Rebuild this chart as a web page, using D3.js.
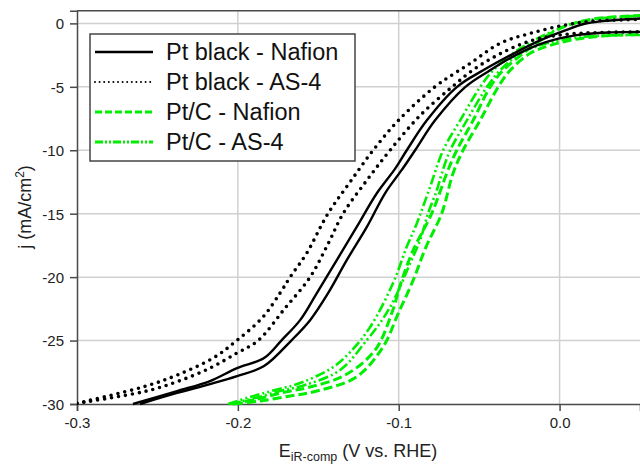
<!DOCTYPE html>
<html>
<head>
<meta charset="utf-8">
<script src="https://cdn.jsdelivr.net/npm/d3@7"></script>
<style>
  body { margin: 0; background: #fff; }
  svg { display: block; font-family: "Liberation Sans", Arial, sans-serif; }
</style>
</head>
<body>
<div id="chart"></div>
<script>
// Axis ticks
const xTicks = [-0.3, -0.2, -0.1, 0.0];
const yTicks = [0, -5, -10, -15, -20, -25, -30];

const seriesNames = ["Pt black - Nafion", "Pt black - AS-4", "Pt/C - Nafion", "Pt/C - AS-4"];

// Each CV loop has two scan branches, [E (V vs RHE), j (mA/cm2)]
const ptBlackNafionA = [
    [-0.2652, -30.0], [-0.2378, -28.98], [-0.2173, -28.19], [-0.2005, -27.17], [-0.1837, -26.38],
    [-0.1727, -24.96], [-0.1613, -23.39], [-0.1509, -21.26], [-0.1385, -18.66], [-0.1261, -16.04],
    [-0.1136, -13.39], [-0.1022, -11.45], [-0.0950, -10.0], [-0.0825, -7.64], [-0.0639, -5.02],
    [-0.0475, -3.70], [-0.0307, -2.52], [-0.0121, -1.34], [0.0035, -0.55], [0.0150, -0.05],
    [0.0252, 0.16], [0.0501, 0.39]
];
const ptBlackNafionB = [
    [-0.2608, -30.0], [-0.2378, -29.13], [-0.2173, -28.43], [-0.2005, -27.80], [-0.1837, -27.01],
    [-0.1665, -24.96], [-0.1551, -23.39], [-0.1439, -21.26], [-0.1323, -18.66], [-0.1198, -16.04],
    [-0.1085, -13.39], [-0.0981, -11.55], [-0.0898, -10.0], [-0.0774, -7.64], [-0.0587, -5.02],
    [-0.0432, -3.70], [-0.0276, -2.52], [-0.0090, -1.50], [0.0097, -0.94], [0.0315, -0.71],
    [0.0501, -0.67]
];
const ptBlackAs4A = [
    [-0.3000, -29.94], [-0.2585, -28.64], [-0.2378, -27.72], [-0.2154, -26.38], [-0.2007, -25.0],
    [-0.1843, -23.13], [-0.1738, -21.26], [-0.1675, -20.0], [-0.1572, -18.11], [-0.1440, -15.0],
    [-0.1302, -12.5], [-0.1159, -10.0], [-0.0991, -7.5], [-0.0775, -5.0], [-0.0660, -4.0],
    [-0.0550, -3.1], [-0.0370, -1.57], [-0.0183, -0.79], [0.0022, -0.16], [0.0190, 0.16],
    [0.0501, 0.31]
];
const ptBlackAs4B = [
    [-0.3000, -29.94], [-0.2585, -29.03], [-0.2378, -28.24], [-0.2173, -27.17], [-0.2005, -25.98],
    [-0.1874, -25.0], [-0.1710, -22.5], [-0.1551, -20.0], [-0.1440, -17.4], [-0.1346, -15.0],
    [-0.1200, -12.4], [-0.1054, -10.0], [-0.0870, -7.3], [-0.0668, -5.0], [-0.0530, -3.6],
    [-0.0400, -2.6], [-0.0270, -1.8], [-0.0130, -1.2], [0.0050, -0.85], [0.0250, -0.72],
    [0.0501, -0.67]
];
const ptcNafionA = [
    [-0.2036, -30.0], [-0.1881, -29.61], [-0.1706, -29.06], [-0.1551, -28.66], [-0.1333, -27.72],
    [-0.1147, -25.75], [-0.1043, -22.83], [-0.0981, -20.24], [-0.0910, -17.87], [-0.0794, -14.96],
    [-0.0701, -11.81], [-0.0639, -10.0], [-0.0537, -7.64], [-0.0432, -5.02], [-0.0351, -3.70],
    [-0.0226, -2.36], [-0.0121, -1.34], [0.0004, -0.39], [0.0190, 0.31], [0.0501, 0.63]
];
const ptcNafionB = [
    [-0.2024, -30.0], [-0.1862, -29.76], [-0.1675, -29.37], [-0.1509, -28.98], [-0.1261, -27.85],
    [-0.1097, -25.49], [-0.1002, -22.83], [-0.0910, -20.24], [-0.0830, -17.61], [-0.0732, -14.96],
    [-0.0662, -11.81], [-0.0600, -10.0], [-0.0494, -7.64], [-0.0382, -5.02], [-0.0307, -3.70],
    [-0.0183, -2.36], [-0.0058, -1.73], [0.0097, -1.26], [0.0283, -0.98], [0.0501, -0.87]
];
const ptcAs4A = [
    [-0.2061, -30.0], [-0.1924, -29.45], [-0.1769, -28.90], [-0.1613, -28.35], [-0.1408, -27.09],
    [-0.1302, -25.91], [-0.1178, -23.94], [-0.1035, -20.47], [-0.0950, -17.61], [-0.0887, -15.75],
    [-0.0805, -12.89], [-0.0724, -10.0], [-0.0618, -7.64], [-0.0494, -5.02], [-0.0413, -3.70],
    [-0.0289, -2.36], [-0.0183, -1.50], [-0.0058, -0.71], [0.0066, -0.08], [0.0252, 0.39],
    [0.0501, 0.59]
];
const ptcAs4B = [
    [-0.2049, -30.0], [-0.1893, -29.53], [-0.1738, -28.98], [-0.1582, -28.50], [-0.1364, -27.32],
    [-0.1198, -24.96], [-0.1116, -23.62], [-0.1053, -22.34], [-0.0991, -20.76], [-0.0929, -18.90],
    [-0.0867, -17.09], [-0.0817, -14.96], [-0.0763, -13.15], [-0.0732, -11.81], [-0.0680, -10.0],
    [-0.0576, -7.64], [-0.0452, -5.02], [-0.0369, -3.70], [-0.0245, -2.36], [-0.0121, -1.73],
    [0.0004, -1.34], [0.0190, -1.02], [0.0501, -0.91]
];

const width = 640;
const height = 466;
const margin = { top: 10.7, right: 0, bottom: 62, left: 77 };

const svg = d3.select("#chart")
    .append("svg")
    .attr("width", width)
    .attr("height", height);

// Scales
const x = d3.scaleLinear()
    .domain([-0.3, 0.05])
    .range([margin.left, width - margin.right]);

const y = d3.scaleLinear()
    .domain([-30, 1])
    .range([height - margin.bottom, margin.top]);

const gridColor = "#d0d0d0";
const axisColor = "#4a4a4a";
const green = "#00ee00";

// Grid
svg.append("g")
    .selectAll("line")
    .data(xTicks.filter(d => d > -0.3))
    .join("line")
    .attr("x1", d => x(d)).attr("x2", d => x(d))
    .attr("y1", y.range()[1]).attr("y2", y.range()[0])
    .attr("stroke", gridColor)
    .attr("stroke-width", 1.5);

svg.append("g")
    .selectAll("line")
    .data(yTicks.filter(d => d > -30))
    .join("line")
    .attr("x1", x.range()[0]).attr("x2", x.range()[1])
    .attr("y1", d => y(d)).attr("y2", d => y(d))
    .attr("stroke", gridColor)
    .attr("stroke-width", 1.5);

// Top frame line
svg.append("line")
    .attr("x1", x.range()[0]).attr("x2", x.range()[1])
    .attr("y1", y.range()[1]).attr("y2", y.range()[1])
    .attr("stroke", axisColor)
    .attr("stroke-width", 1.5);

// Axes
const xAxis = svg.append("g")
    .attr("transform", `translate(0,${y.range()[0]})`)
    .call(d3.axisBottom(x).tickValues(xTicks).tickSize(7).tickPadding(6).tickFormat(d => d.toFixed(1)));

const yAxis = svg.append("g")
    .attr("transform", `translate(${x.range()[0]},0)`)
    .call(d3.axisLeft(y).tickValues(yTicks).tickSize(7).tickPadding(6).tickFormat(d => String(d)));

[xAxis, yAxis].forEach(g => {
    g.select(".domain").attr("stroke", axisColor).attr("stroke-width", 1.5);
    g.selectAll(".tick line").attr("stroke", axisColor).attr("stroke-width", 1.5);
    g.selectAll("text")
        .attr("fill", "#222")
        .style("font-size", "15px")
        .style("font-family", "Liberation Sans, Arial, sans-serif");
});
yAxis.selectAll("text").attr("dy", "0.36em");

// Axis titles
const xTitle = svg.append("text")
    .attr("x", 358)
    .attr("y", 457)
    .attr("text-anchor", "middle")
    .attr("fill", "#222")
    .style("font-size", "18px");
xTitle.append("tspan").text("E");
xTitle.append("tspan").attr("dy", 4).style("font-size", "12.5px").text("iR-comp");
xTitle.append("tspan").attr("dy", -4).text(" (V vs. RHE)");

const yTitle = svg.append("text")
    .attr("transform", "translate(31,207) rotate(-90)")
    .attr("text-anchor", "middle")
    .attr("fill", "#222")
    .style("font-size", "18px");
yTitle.append("tspan").text("j (mA/cm");
yTitle.append("tspan").attr("dy", -7).style("font-size", "12px").text("2");
yTitle.append("tspan").attr("dy", 7).text(")");

// Curves
svg.append("defs").append("clipPath")
    .attr("id", "plot-clip")
    .append("rect")
    .attr("x", x.range()[0])
    .attr("y", y.range()[1])
    .attr("width", x.range()[1] - x.range()[0])
    .attr("height", y.range()[0] - y.range()[1] + 2);

const line = d3.line()
    .curve(d3.curveCatmullRom.alpha(0.5))
    .x(d => x(d[0]))
    .y(d => y(d[1]));

const styles = [
    { color: "#000", width: 2.4, dash: null, cap: "butt", legendWidth: 2.4, legendDash: null },
    { color: "#000", width: 3.6, dash: "0,7", cap: "round", legendWidth: 2, legendDash: "0,4.6" },
    { color: green, width: 3, dash: "9,4", cap: "butt", legendWidth: 3, legendDash: "7,3" },
    { color: green, width: 2.6, dash: "10,3,2,3,2,3", cap: "butt", legendWidth: 3, legendDash: "8,2,2,2,2,2" }
];

const loops = [
    [ptBlackNafionA, ptBlackNafionB],
    [ptBlackAs4A, ptBlackAs4B],
    [ptcNafionA, ptcNafionB],
    [ptcAs4A, ptcAs4B]
];

const curves = svg.append("g").attr("clip-path", "url(#plot-clip)");

// draw green first so black stays on top like the reference
[2, 3, 0, 1].forEach(i => {
    const s = styles[i];
    curves.selectAll(null)
        .data(loops[i])
        .join("path")
        .attr("d", line)
        .attr("fill", "none")
        .attr("stroke", s.color)
        .attr("stroke-width", s.width)
        .attr("stroke-linecap", s.cap)
        .attr("stroke-dasharray", s.dash);
});

// Legend
const legend = svg.append("g");
legend.append("rect")
    .attr("x", 90).attr("y", 34)
    .attr("width", 265).attr("height", 127)
    .attr("fill", "#fff")
    .attr("stroke", "#444")
    .attr("stroke-width", 1.5);

const rows = legend.selectAll("g.row")
    .data(seriesNames)
    .join("g")
    .attr("class", "row")
    .attr("transform", (d, i) => `translate(0,${52 + i * 30})`);

rows.append("line")
    .attr("x1", 95).attr("x2", 153)
    .attr("y1", 0).attr("y2", 0)
    .attr("stroke", (d, i) => styles[i].color)
    .attr("stroke-width", (d, i) => styles[i].legendWidth)
    .attr("stroke-linecap", (d, i) => styles[i].cap)
    .attr("stroke-dasharray", (d, i) => styles[i].legendDash);

rows.append("text")
    .attr("x", 166)
    .attr("y", 8)
    .attr("fill", "#111")
    .style("font-size", "23.5px")
    .text(d => d);
</script>
</body>
</html>
